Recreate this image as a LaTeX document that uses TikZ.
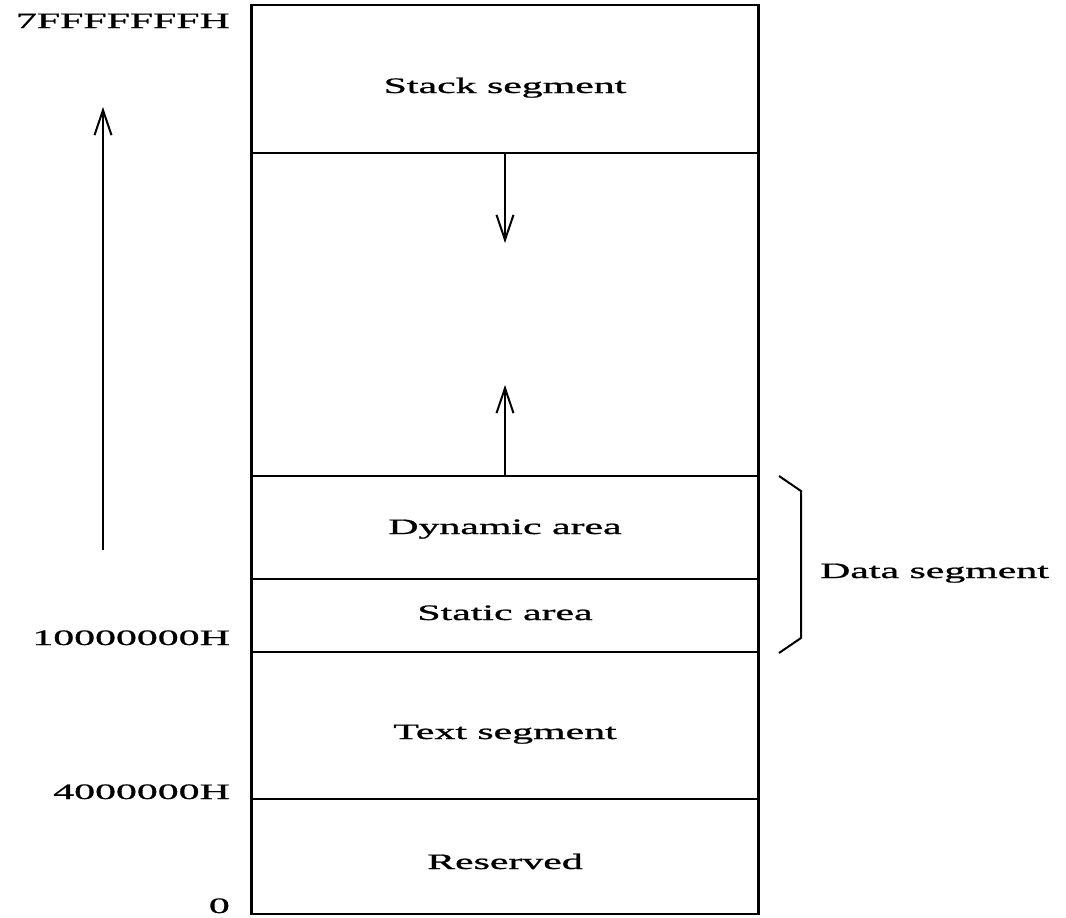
\documentclass[tikz,border=0pt]{standalone}
\usepackage{fontspec}
\usepackage{graphicx}
\setmainfont{Liberation Serif}
\newfontfamily\lblfont{Liberation Serif}[FakeBold=0.8]
\usetikzlibrary{arrows.meta}
% wide serif lettering used for all labels
\newcommand{\widetext}[1]{\scalebox{1.9}[1]{#1}}
\tikzset{
  lbl/.style={inner sep=0pt, font=\lblfont\fontsize{22}{24}\selectfont},
  vline/.style={line width=3pt},
  hline/.style={line width=1.6pt},
  growarrow/.style={line width=2.4pt, -{Straight Barb[length=25pt,width=17pt,line width=2pt]}},
  bracket/.style={line width=2pt, line join=miter}
}
\begin{document}
\begin{tikzpicture}[x=1pt,y=-1pt]
\useasboundingbox (0,0) rectangle (1066,918);

% memory column corners
\coordinate (tl) at (251.5,5);
\coordinate (tr) at (758.5,5);
\coordinate (bl) at (251.5,914);
\coordinate (br) at (758.5,914);

% outer frame
\draw[vline] (tl) -- (bl);
\draw[vline] (tr) -- (br);
\draw[hline] ([xshift=-1.5pt]tl) -- ([xshift=1.5pt]tr);
\draw[hline] ([xshift=-1.5pt]bl) -- ([xshift=1.5pt]br);

% segment boundaries
\foreach \y/\n in {153/s1,476/s2,579/s3,652/s4,799/s5}{
  \coordinate (\n l) at (251.5,\y);
  \coordinate (\n r) at (758.5,\y);
  \draw[hline] (\n l) -- (\n r);
}

% segment names
\node[lbl, anchor=base] (stack)   at (505,93)  {\widetext{Stack segment}};
\node[lbl, anchor=base] (dynamic) at (505,534) {\widetext{Dynamic area}};
\node[lbl, anchor=base] (static)  at (505,620) {\widetext{Static area}};
\node[lbl, anchor=base] (textseg) at (505,739) {\widetext{Text segment}};
\node[lbl, anchor=base] (reserved) at (505,869) {\widetext{Reserved}};

% addresses
\node[lbl, anchor=base east] (a7f) at (230,28)  {\widetext{7FFFFFFFH}};
\node[lbl, anchor=base east] (a10) at (230,645) {\widetext{10000000H}};
\node[lbl, anchor=base east] (a40) at (230,799) {\widetext{4000000H}};
\node[lbl, anchor=base east] (a0)  at (230,913) {\widetext{0}};

% growth directions
\coordinate (stacktop) at (505,153);
\coordinate (stackend) at (505,243);
\coordinate (heapbase) at (505,476);
\coordinate (heapend)  at (505,385);
\coordinate (addrlow)  at (103,550);
\coordinate (addrhigh) at (103,107);
\draw[growarrow] (stacktop) -- (stackend);
\draw[growarrow] (heapbase) -- (heapend);
\draw[growarrow] (addrlow) -- (addrhigh);

% data segment bracket
\coordinate (b1) at (779,476);
\coordinate (b2) at (801,491);
\coordinate (b3) at (801,638);
\coordinate (b4) at (779,653);
\draw[bracket] (b1) -- (b2) -- (b3) -- (b4);
\node[lbl, anchor=base west] (data) at (820,578) {\widetext{Data segment}};
\end{tikzpicture}
\end{document}
